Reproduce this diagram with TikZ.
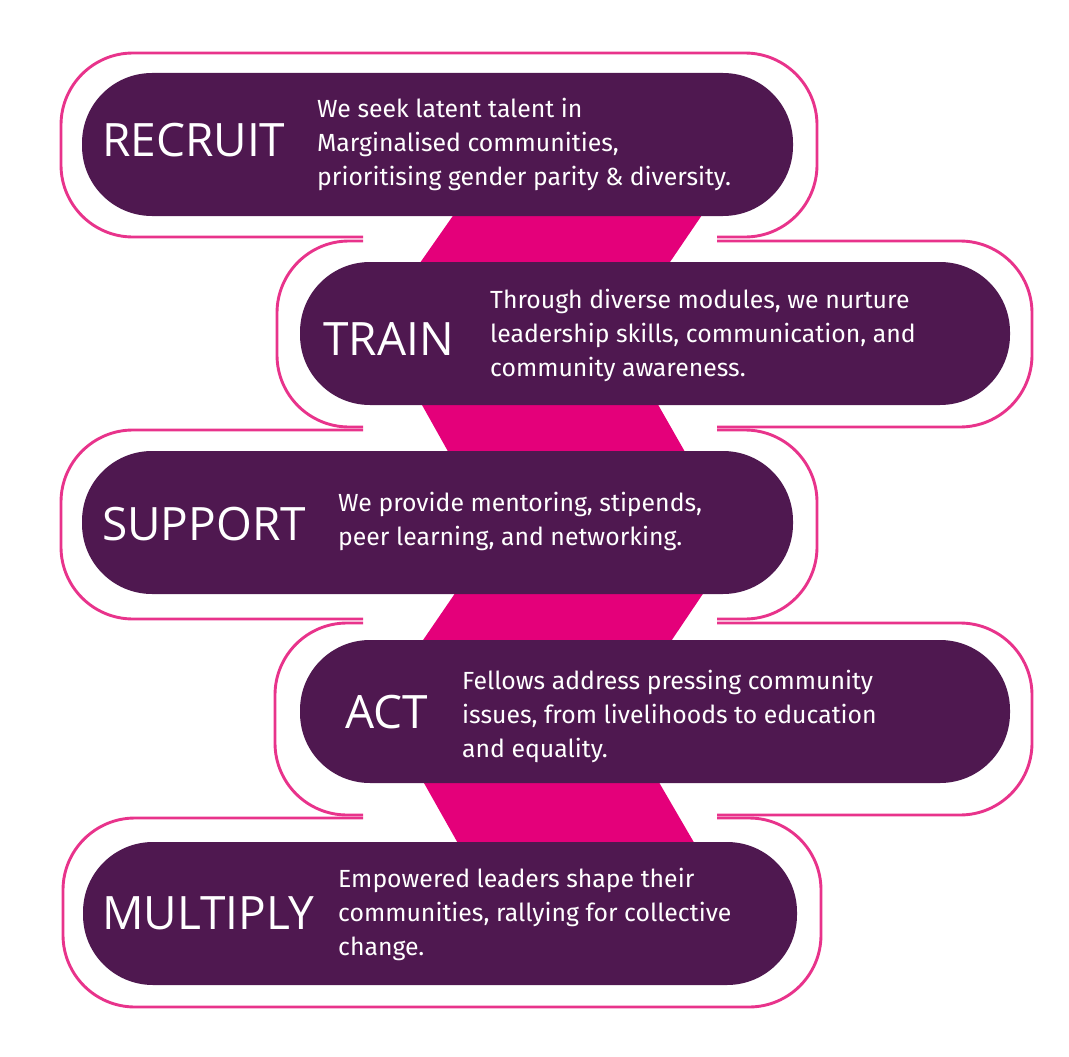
\documentclass[tikz,border=0pt]{standalone}
\usepackage{fontspec}
\setmainfont{Fira Sans}
\newfontfamily\titlefont{Open Sans}
\definecolor{plum}{HTML}{4F1850}
\definecolor{bandpink}{HTML}{E4007A}
\definecolor{rim}{HTML}{E8338B}
\begin{document}
\begin{tikzpicture}[x=1pt,y=-1pt,
  pill/.style={fill=plum, rounded corners=70pt, minimum height=143pt, inner sep=0pt},
  rimline/.style={draw=rim, line width=2.9pt, rounded corners=72pt},
  bandfill/.style={fill=bandpink},
  title/.style={text=white, font=\titlefont\fontsize{46}{50}\selectfont, anchor=base west, inner sep=0pt},
  body/.style={text=white, font=\fontsize{24.8}{34}\selectfont, align=left, anchor=west, inner sep=0pt}]
\useasboundingbox (0,0) rectangle (1069,1057);
% pink bands
\fill[bandfill] (471,190) -- (719,190) -- (651,290) -- (401,290) -- cycle;
\fill[bandfill] (408,380) -- (644,380) -- (701,480) -- (464,480) -- cycle;
\fill[bandfill] (471,570) -- (719,570) -- (655,665) -- (406,665) -- cycle;
\fill[bandfill] (411,760) -- (646,760) -- (710,870) -- (473,870) -- cycle;
% outlines
\draw[rimline] (363,237) -- (61,237) -- (61,53) -- (817,53) -- (817,237) -- (717,237);
\draw[rimline] (363,241) -- (277,241) -- (277,427) -- (363,427);
\draw[rimline] (717,241) -- (1032,241) -- (1032,427) -- (717,427);
\draw[rimline] (363,430) -- (61,430) -- (61,619) -- (363,619);
\draw[rimline] (717,430) -- (817,430) -- (817,619) -- (717,619);
\draw[rimline] (363,623) -- (275,623) -- (275,815) -- (363,815);
\draw[rimline] (717,623) -- (1032,623) -- (1032,815) -- (717,815);
\draw[rimline] (363,818) -- (63,818) -- (63,1007) -- (821,1007) -- (821,818) -- (717,818);
% boxes
\node[pill, minimum width=711pt] (recruit) at (437.5,144.5) {};
\node[pill, minimum width=710pt] (train) at (655,333.5) {};
\node[pill, minimum width=711pt] (support) at (437.5,522.5) {};
\node[pill, minimum width=710pt] (act) at (655,711.5) {};
\node[pill, minimum width=714pt] (multiply) at (440,913.5) {};
% titles
\node[title] (t1) at (102,157) {RECRUIT};
\node[title] (t2) at (323,355) {TRAIN};
\node[title] (t3) at (102,540) {SUPPORT};
\node[title] (t4) at (345,728) {ACT};
\node[title] (t5) at (102,929) {MULTIPLY};
% body texts
\node[body] (b1) at (317,144) {We seek latent talent in\\Marginalised communities,\\prioritising gender parity \& diversity.};
\node[body] (b2) at (490,335) {Through diverse modules, we nurture\\leadership skills, communication, and\\community awareness.};
\node[body] (b3) at (338,521) {We provide mentoring, stipends,\\peer learning, and networking.};
\node[body] (b4) at (462,716) {Fellows address pressing community\\issues, from livelihoods to education\\and equality.};
\node[body] (b5) at (338,914) {Empowered leaders shape their\\communities, rallying for collective\\change.};
\end{tikzpicture}
\end{document}
